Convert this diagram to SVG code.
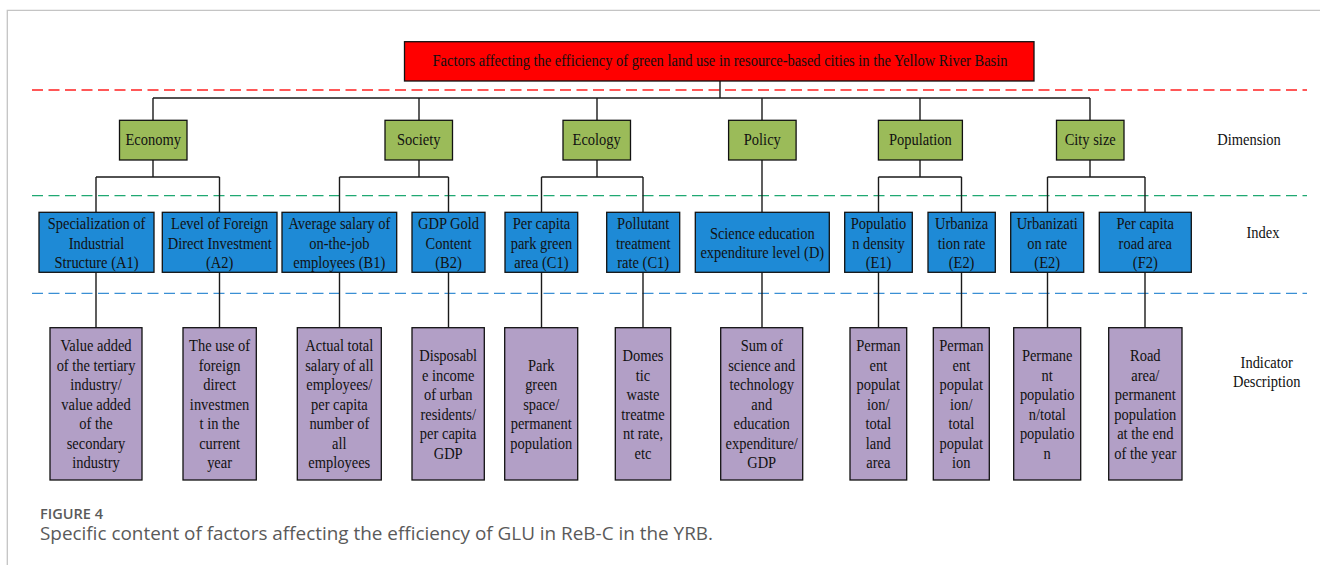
<svg xmlns="http://www.w3.org/2000/svg" width="1320" height="565" viewBox="0 0 1320 565">
<style>
.t{font-family:"Liberation Serif","Times New Roman",serif;font-size:16px;fill:#111;text-anchor:middle;transform-box:fill-box;transform-origin:center;transform:scaleX(0.905)}
.box{stroke:#111;stroke-width:1.3}
.red{fill:#FF0000}.grn{fill:#9BBB59}.blu{fill:#1E8AD6}.pur{fill:#B29FC6}
.ln{stroke:#1a1a1a;stroke-width:1.4;fill:none}
.dash{stroke-width:1.3;stroke-dasharray:11 5.5;fill:none}
.cap{font-family:"Open Sans","Liberation Sans",sans-serif;fill:#5a5a5a}
</style>
<rect width="1320" height="565" fill="#fff"/>
<path d="M7.3 565V10.3H1320" stroke="#c4c4c4" stroke-width="1.3" fill="none"/>
<g id="guides">
<line class="dash" x1="32" y1="90" x2="1307" y2="90" stroke="#FF2020"/>
<line class="dash" x1="32" y1="195.7" x2="1307" y2="195.7" stroke="#1FA872"/>
<line class="dash" x1="32" y1="293.3" x2="1307" y2="293.3" stroke="#3A8FD4"/>
</g>
<g id="connectors">
<path class="ln" d="M720 81V98M153 98H1090M153 98V120M419 98V120M597 98V120M762 98V120M920 98V120M1090 98V120"/>
<path class="ln" d="M153 160V177M96 177H219.5M96 177V212M219.5 177V212"/>
<path class="ln" d="M419 160V177M339.5 177H448.5M339.5 177V212M448.5 177V212"/>
<path class="ln" d="M597 160V177M541.5 177H643M541.5 177V212M643 177V212"/>
<path class="ln" d="M762 160V212"/>
<path class="ln" d="M920 160V177M878.5 177H961.5M878.5 177V212M961.5 177V212"/>
<path class="ln" d="M1090 160V177M1047.5 177H1145M1047.5 177V212M1145 177V212"/>
<path class="ln" d="M96 272V328M219.5 272V328M339.5 272V328M448.5 272V328M541.5 272V328M643 272V328M762 272V328M878.5 272V328M961.5 272V328M1047.5 272V328M1145 272V328"/>
</g>
<g id="title"><rect class="box red" x="404.5" y="41.7" width="629.5" height="39.3"/>
<text class="t" x="720" y="66.5">Factors affecting the efficiency of green land use in resource-based cities in the Yellow River Basin</text></g>
<g id="dim-economy"><rect class="box grn" x="119.5" y="120.3" width="67.5" height="39.7"/><text class="t" x="153.2" y="145.5">Economy</text></g>
<g id="dim-society"><rect class="box grn" x="385" y="120.3" width="67.5" height="39.7"/><text class="t" x="418.7" y="145.5">Society</text></g>
<g id="dim-ecology"><rect class="box grn" x="563" y="120.3" width="67.5" height="39.7"/><text class="t" x="596.7" y="145.5">Ecology</text></g>
<g id="dim-policy"><rect class="box grn" x="728.6" y="120.3" width="67.5" height="39.7"/><text class="t" x="762.3" y="145.5">Policy</text></g>
<g id="dim-population"><rect class="box grn" x="878.4" y="120.3" width="84" height="39.7"/><text class="t" x="920.4" y="145.5">Population</text></g>
<g id="dim-citysize"><rect class="box grn" x="1056.5" y="120.3" width="67.5" height="39.7"/><text class="t" x="1090.2" y="145.5">City size</text></g>
<g id="lbl-dimension"><text class="t" x="1249" y="145.5">Dimension</text></g>
<g id="idx-a1"><rect class="box blu" x="39" y="212.3" width="115" height="60"/><text class="t" x="96.5" y="229.5">Specialization of</text><text class="t" x="96.5" y="248.9">Industrial</text><text class="t" x="96.5" y="268.3">Structure (A1)</text></g>
<g id="idx-a2"><rect class="box blu" x="162.3" y="212.3" width="114.7" height="60"/><text class="t" x="219.7" y="229.5">Level of Foreign</text><text class="t" x="219.7" y="248.9">Direct Investment</text><text class="t" x="219.7" y="268.3">(A2)</text></g>
<g id="idx-b1"><rect class="box blu" x="282" y="212.3" width="114.7" height="60"/><text class="t" x="339.3" y="229.5">Average salary of</text><text class="t" x="339.3" y="248.9">on-the-job</text><text class="t" x="339.3" y="268.3">employees (B1)</text></g>
<g id="idx-b2"><rect class="box blu" x="412" y="212.3" width="73" height="60"/><text class="t" x="448.5" y="229.5">GDP Gold</text><text class="t" x="448.5" y="248.9">Content</text><text class="t" x="448.5" y="268.3">(B2)</text></g>
<g id="idx-c1"><rect class="box blu" x="505" y="212.3" width="72.7" height="60"/><text class="t" x="541.4" y="229.5">Per capita</text><text class="t" x="541.4" y="248.9">park green</text><text class="t" x="541.4" y="268.3">area (C1)</text></g>
<g id="idx-c1b"><rect class="box blu" x="606.7" y="212.3" width="73" height="60"/><text class="t" x="643.2" y="229.5">Pollutant</text><text class="t" x="643.2" y="248.9">treatment</text><text class="t" x="643.2" y="268.3">rate (C1)</text></g>
<g id="idx-d"><rect class="box blu" x="695.3" y="212.3" width="134" height="60"/><text class="t" x="762.3" y="238.8">Science education</text><text class="t" x="762.3" y="258.2">expenditure level (D)</text></g>
<g id="idx-e1"><rect class="box blu" x="844.7" y="212.3" width="67.6" height="60"/><text class="t" x="878.5" y="229.5">Populatio</text><text class="t" x="878.5" y="248.9">n density</text><text class="t" x="878.5" y="268.3">(E1)</text></g>
<g id="idx-e2"><rect class="box blu" x="928" y="212.3" width="67.3" height="60"/><text class="t" x="961.6" y="229.5">Urbaniza</text><text class="t" x="961.6" y="248.9">tion rate</text><text class="t" x="961.6" y="268.3">(E2)</text></g>
<g id="idx-e2b"><rect class="box blu" x="1010.7" y="212.3" width="73" height="60"/><text class="t" x="1047.2" y="229.5">Urbanizati</text><text class="t" x="1047.2" y="248.9">on rate</text><text class="t" x="1047.2" y="268.3">(E2)</text></g>
<g id="idx-f2"><rect class="box blu" x="1099.3" y="212.3" width="92" height="60"/><text class="t" x="1145.3" y="229.5">Per capita</text><text class="t" x="1145.3" y="248.9">road area</text><text class="t" x="1145.3" y="268.3">(F2)</text></g>
<g id="lbl-index"><text class="t" x="1263" y="238">Index</text></g>
<g id="desc-1"><rect class="box pur" x="50" y="327.7" width="92" height="152.3"/><text class="t" x="96" y="351.5">Value added</text><text class="t" x="96" y="371">of the tertiary</text><text class="t" x="96" y="390.5">industry/</text><text class="t" x="96" y="410">value added</text><text class="t" x="96" y="429.5">of the</text><text class="t" x="96" y="449">secondary</text><text class="t" x="96" y="468.5">industry</text></g>
<g id="desc-2"><rect class="box pur" x="183" y="327.7" width="73.3" height="152.3"/><text class="t" x="219.6" y="351.5">The use of</text><text class="t" x="219.6" y="371">foreign</text><text class="t" x="219.6" y="390.5">direct</text><text class="t" x="219.6" y="410">investmen</text><text class="t" x="219.6" y="429.5">t in the</text><text class="t" x="219.6" y="449">current</text><text class="t" x="219.6" y="468.5">year</text></g>
<g id="desc-3"><rect class="box pur" x="297.3" y="327.7" width="84" height="152.3"/><text class="t" x="339.3" y="351.5">Actual total</text><text class="t" x="339.3" y="371">salary of all</text><text class="t" x="339.3" y="390.5">employees/</text><text class="t" x="339.3" y="410">per capita</text><text class="t" x="339.3" y="429.5">number of</text><text class="t" x="339.3" y="449">all</text><text class="t" x="339.3" y="468.5">employees</text></g>
<g id="desc-4"><rect class="box pur" x="412" y="327.7" width="72.3" height="152.3"/><text class="t" x="448.2" y="361.2">Disposabl</text><text class="t" x="448.2" y="380.7">e income</text><text class="t" x="448.2" y="400.2">of urban</text><text class="t" x="448.2" y="419.7">residents/</text><text class="t" x="448.2" y="439.2">per capita</text><text class="t" x="448.2" y="458.7">GDP</text></g>
<g id="desc-5"><rect class="box pur" x="504.7" y="327.7" width="73" height="152.3"/><text class="t" x="541.2" y="371">Park</text><text class="t" x="541.2" y="390.5">green</text><text class="t" x="541.2" y="410">space/</text><text class="t" x="541.2" y="429.5">permanent</text><text class="t" x="541.2" y="449">population</text></g>
<g id="desc-6"><rect class="box pur" x="615.3" y="327.7" width="55.4" height="152.3"/><text class="t" x="643" y="361.2">Domes</text><text class="t" x="643" y="380.7">tic</text><text class="t" x="643" y="400.2">waste</text><text class="t" x="643" y="419.7">treatme</text><text class="t" x="643" y="439.2">nt rate,</text><text class="t" x="643" y="458.7">etc</text></g>
<g id="desc-7"><rect class="box pur" x="720.7" y="327.7" width="82" height="152.3"/><text class="t" x="761.7" y="351.5">Sum of</text><text class="t" x="761.7" y="371">science and</text><text class="t" x="761.7" y="390.5">technology</text><text class="t" x="761.7" y="410">and</text><text class="t" x="761.7" y="429.5">education</text><text class="t" x="761.7" y="449">expenditure/</text><text class="t" x="761.7" y="468.5">GDP</text></g>
<g id="desc-8"><rect class="box pur" x="850" y="327.7" width="56.7" height="152.3"/><text class="t" x="878.3" y="351.5">Perman</text><text class="t" x="878.3" y="371">ent</text><text class="t" x="878.3" y="390.5">populat</text><text class="t" x="878.3" y="410">ion/</text><text class="t" x="878.3" y="429.5">total</text><text class="t" x="878.3" y="449">land</text><text class="t" x="878.3" y="468.5">area</text></g>
<g id="desc-9"><rect class="box pur" x="933.3" y="327.7" width="56" height="152.3"/><text class="t" x="961.3" y="351.5">Perman</text><text class="t" x="961.3" y="371">ent</text><text class="t" x="961.3" y="390.5">populat</text><text class="t" x="961.3" y="410">ion/</text><text class="t" x="961.3" y="429.5">total</text><text class="t" x="961.3" y="449">populat</text><text class="t" x="961.3" y="468.5">ion</text></g>
<g id="desc-10"><rect class="box pur" x="1013.7" y="327.7" width="67" height="152.3"/><text class="t" x="1047.2" y="361.2">Permane</text><text class="t" x="1047.2" y="380.7">nt</text><text class="t" x="1047.2" y="400.2">populatio</text><text class="t" x="1047.2" y="419.7">n/total</text><text class="t" x="1047.2" y="439.2">populatio</text><text class="t" x="1047.2" y="458.7">n</text></g>
<g id="desc-11"><rect class="box pur" x="1108.7" y="327.7" width="73.3" height="152.3"/><text class="t" x="1145.3" y="361.2">Road</text><text class="t" x="1145.3" y="380.7">area/</text><text class="t" x="1145.3" y="400.2">permanent</text><text class="t" x="1145.3" y="419.7">population</text><text class="t" x="1145.3" y="439.2">at the end</text><text class="t" x="1145.3" y="458.7">of the year</text></g>
<g id="lbl-indicator"><text class="t" x="1266.7" y="367.7">Indicator</text><text class="t" x="1266.7" y="387.5">Description</text></g>
<g id="caption">
<text class="cap" x="40" y="518.5" font-size="14" font-weight="600" textLength="63" lengthAdjust="spacingAndGlyphs">FIGURE 4</text>
<text class="cap" x="40" y="540" font-size="18" textLength="673" lengthAdjust="spacingAndGlyphs">Specific content of factors affecting the efficiency of GLU in ReB-C in the YRB.</text>
</g>
</svg>
